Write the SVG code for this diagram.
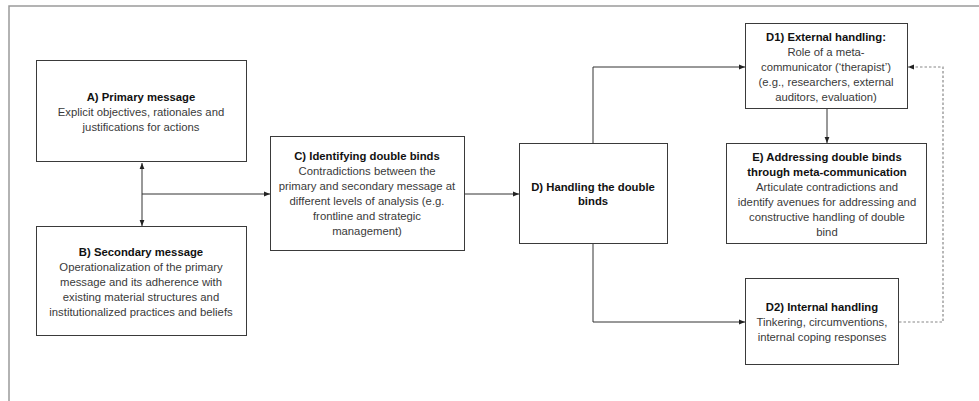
<svg xmlns="http://www.w3.org/2000/svg" width="979" height="401" viewBox="0 0 979 401">
<defs>
<style>
.frame{fill:none;stroke:#9a9a9a;stroke-width:1.5}
.box{fill:#fff;stroke:#3a3a3a;stroke-width:1}
.t{font-family:"Liberation Sans",Arial,sans-serif;font-size:11.3px;text-anchor:middle;fill:#3a3a3a}
.b{font-weight:bold;fill:#111}
.c{fill:none;stroke:#333;stroke-width:1}
.d{fill:none;stroke:#888;stroke-width:1.2;stroke-dasharray:2.5 2}
</style>
<marker id="ah" viewBox="0 0 10 10" refX="10" refY="5" markerWidth="6" markerHeight="6" orient="auto-start-reverse" markerUnits="userSpaceOnUse">
<path d="M0,1 L10,5 L0,9 Z" fill="#222"/>
</marker>
</defs>
<rect width="979" height="401" fill="#fff"/>
<path class="frame" d="M9,401 V6 H979"/>
<g id="connectors">
<line class="c" x1="142" y1="163" x2="142" y2="226" marker-start="url(#ah)" marker-end="url(#ah)"/>
<line class="c" x1="142" y1="194" x2="270" y2="194" marker-end="url(#ah)"/>
<line class="c" x1="465" y1="194" x2="519" y2="194" marker-end="url(#ah)"/>
<polyline class="c" points="593,144 593,67 745,67" marker-end="url(#ah)"/>
<polyline class="c" points="593,244 593,322 745,322" marker-end="url(#ah)"/>
<line class="c" x1="827" y1="109" x2="827" y2="143" marker-end="url(#ah)"/>
<polyline class="d" points="899,322 943,322 943,67 908,67" marker-end="url(#ah)"/>
</g>
<g id="nodeA">
<rect class="box" x="36.5" y="60.5" width="210" height="101"/>
<text class="t b" x="141" y="101">A) Primary message</text>
<text class="t" x="141" y="116">Explicit objectives, rationales and</text>
<text class="t" x="141" y="131">justifications for actions</text>
</g>
<g id="nodeB">
<rect class="box" x="36.5" y="226.5" width="210" height="109"/>
<text class="t b" x="141" y="256">B) Secondary message</text>
<text class="t" x="141" y="271">Operationalization of the primary</text>
<text class="t" x="141" y="286">message and its adherence with</text>
<text class="t" x="141" y="301">existing material structures and</text>
<text class="t" x="141" y="316">institutionalized practices and beliefs</text>
</g>
<g id="nodeC">
<rect class="box" x="270.5" y="136.5" width="194" height="114"/>
<text class="t b" x="367" y="160">C) Identifying double binds</text>
<text class="t" x="367" y="175">Contradictions between the</text>
<text class="t" x="367" y="190">primary and secondary message at</text>
<text class="t" x="367" y="205">different levels of analysis (e.g.</text>
<text class="t" x="367" y="220">frontline and strategic</text>
<text class="t" x="367" y="235">management)</text>
</g>
<g id="nodeD">
<rect class="box" x="519.5" y="143.5" width="148" height="100"/>
<text class="t b" x="593" y="191">D) Handling the double</text>
<text class="t b" x="593" y="205">binds</text>
</g>
<g id="nodeD1">
<rect class="box" x="745.5" y="23.5" width="162" height="85"/>
<text class="t b" x="826" y="41">D1) External handling:</text>
<text class="t" x="826" y="56">Role of a meta-</text>
<text class="t" x="826" y="71">communicator  (‘therapist’)</text>
<text class="t" x="826" y="86">(e.g., researchers, external</text>
<text class="t" x="826" y="101">auditors, evaluation)</text>
</g>
<g id="nodeE">
<rect class="box" x="726.5" y="143.5" width="200" height="100"/>
<text class="t b" x="827" y="161">E) Addressing double binds</text>
<text class="t b" x="827" y="176">through meta-communication</text>
<text class="t" x="827" y="191">Articulate contradictions and</text>
<text class="t" x="827" y="206">identify avenues for addressing and</text>
<text class="t" x="827" y="221">constructive handling of double</text>
<text class="t" x="827" y="236">bind</text>
</g>
<g id="nodeD2">
<rect class="box" x="745.5" y="278.5" width="153" height="86"/>
<text class="t b" x="822" y="311">D2) Internal handling</text>
<text class="t" x="822" y="326">Tinkering, circumventions,</text>
<text class="t" x="822" y="341">internal coping responses</text>
</g>
</svg>
